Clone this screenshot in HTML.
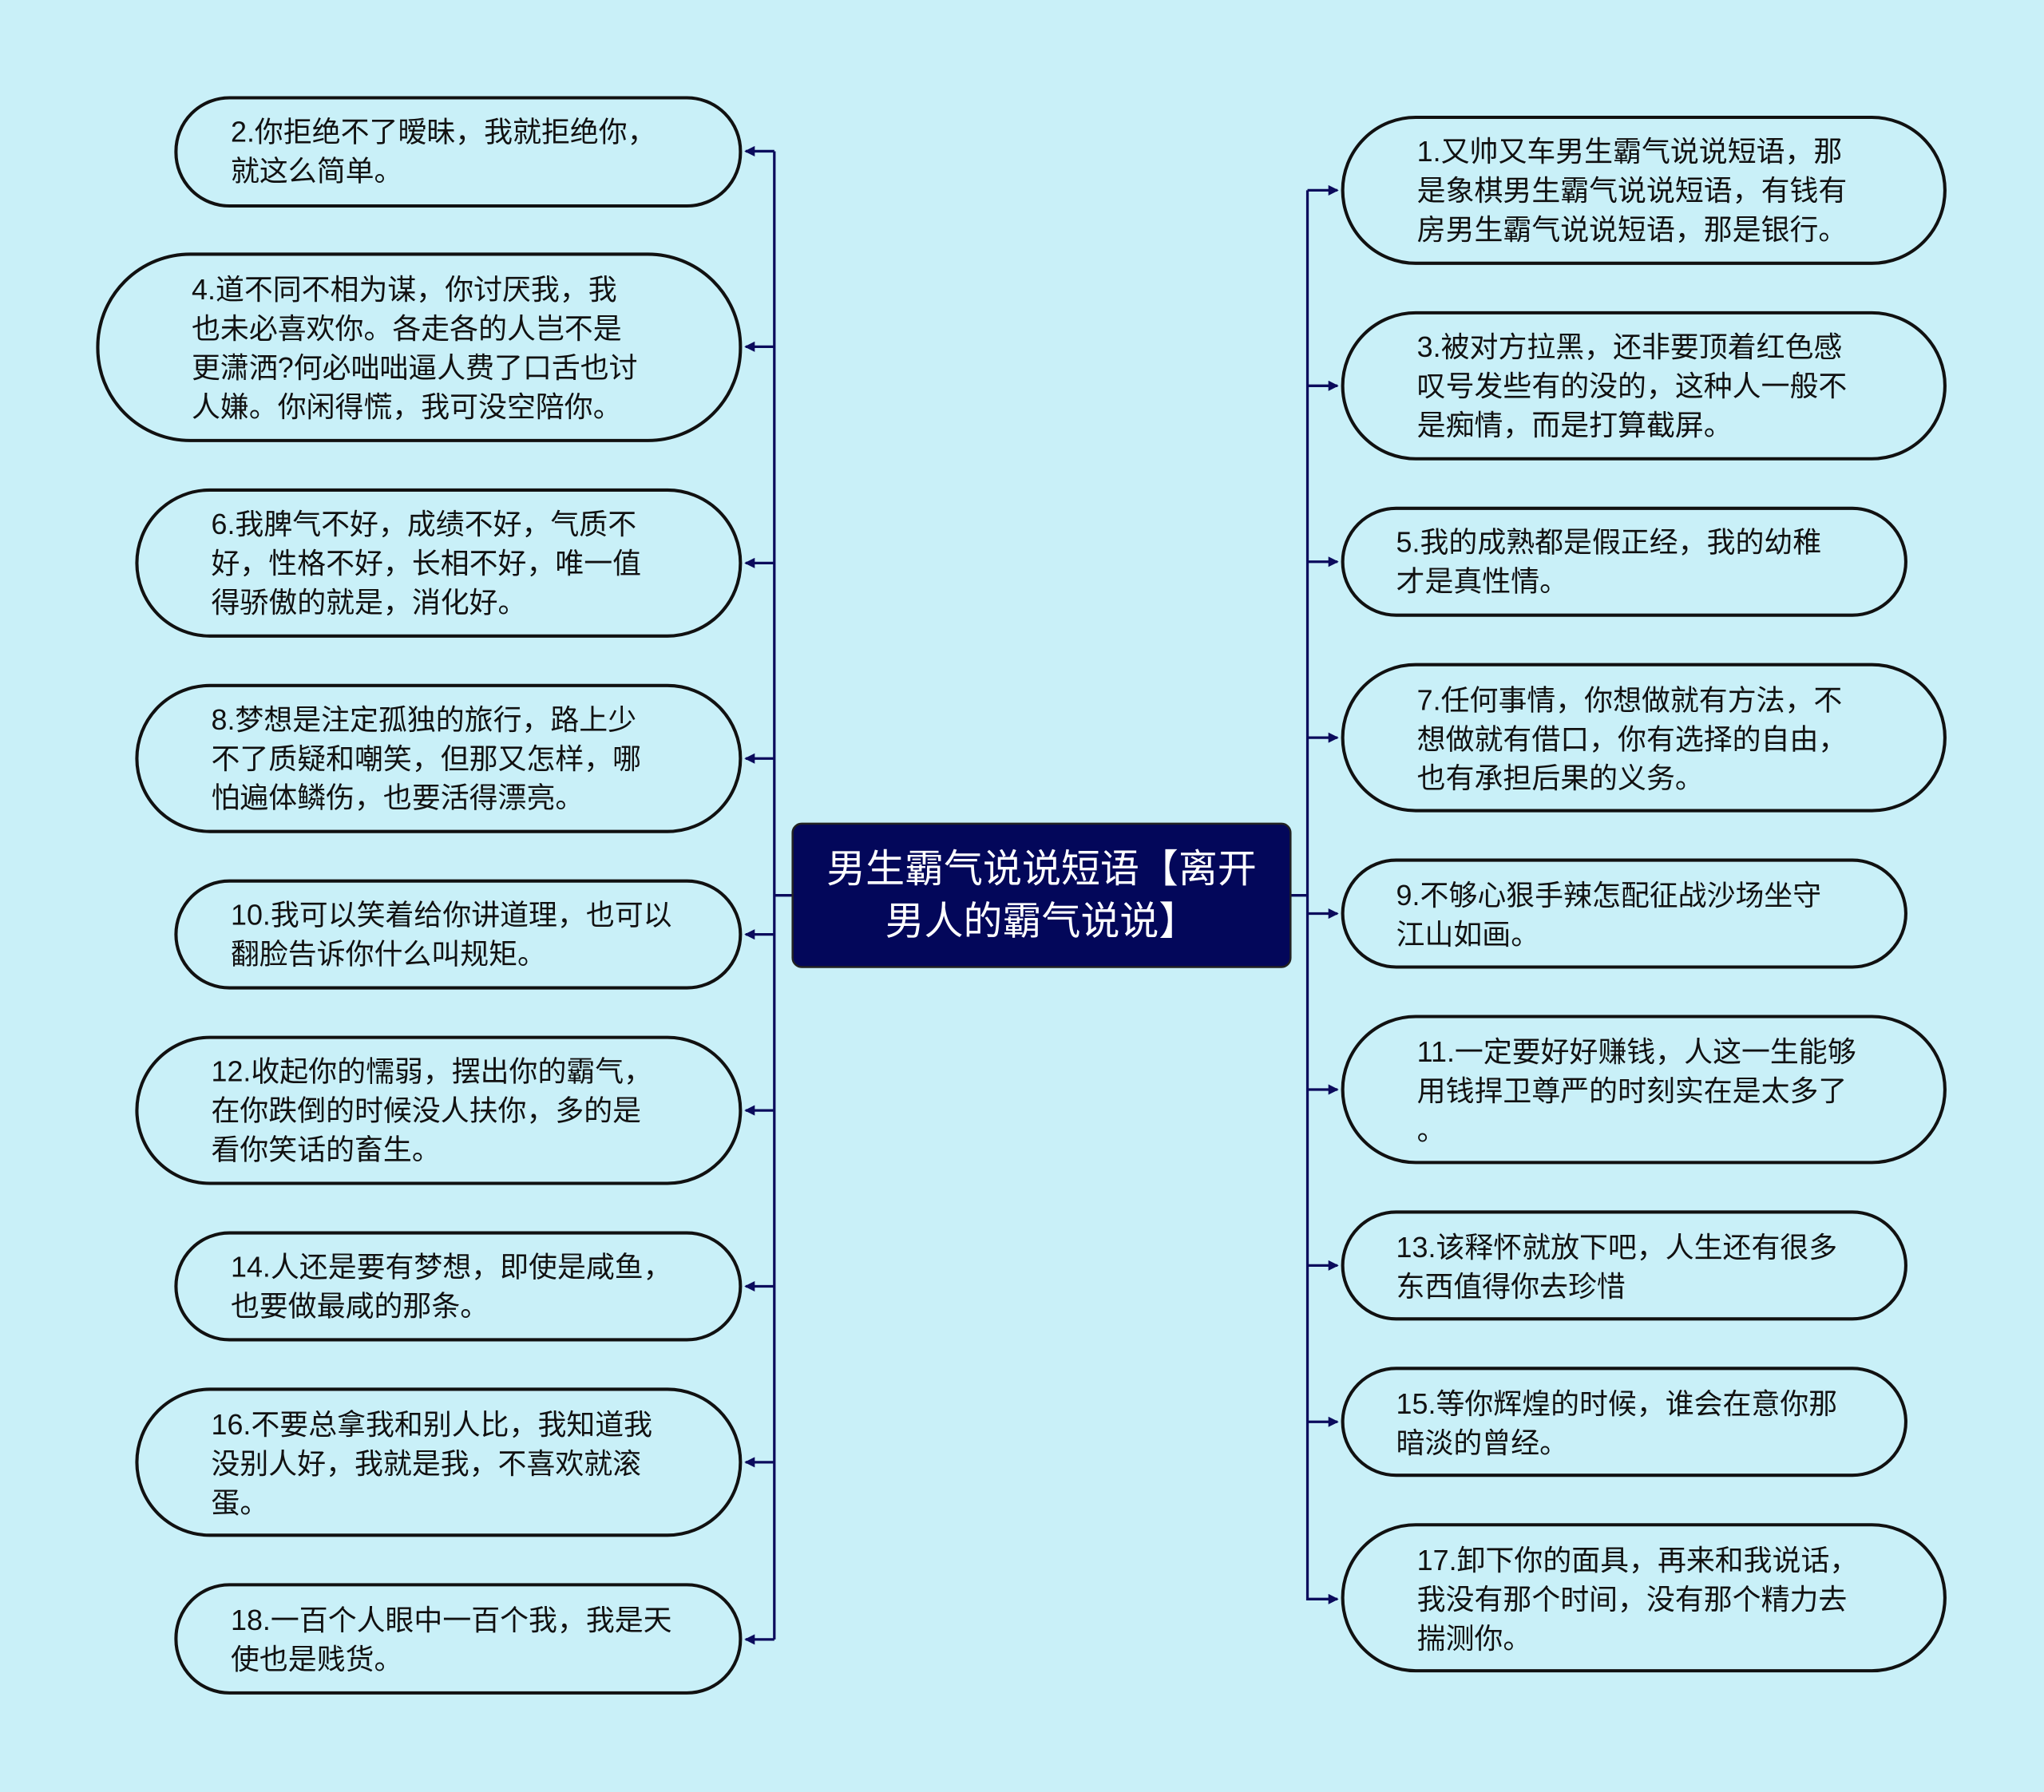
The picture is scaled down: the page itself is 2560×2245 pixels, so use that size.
<!DOCTYPE html>
<html><head><meta charset="utf-8"><style>
html,body{margin:0;padding:0;background:#c9f0f8;}
svg{display:block}
text{font-family:"Liberation Sans","Noto Sans CJK SC",sans-serif;font-size:22px;fill:#111;dominant-baseline:central}
</style></head><body>
<svg width="2560" height="2245" viewBox="0 0 1568 1375" xmlns="http://www.w3.org/2000/svg">
<rect width="1568" height="1375" fill="#c9f0f8"/>
<defs><marker id="a" markerWidth="8" markerHeight="8" refX="7" refY="4" orient="auto" markerUnits="userSpaceOnUse"><path d="M0,0 L8,4 L0,8 z" fill="#0b0b5c"/></marker></defs>
<g stroke="#0b0b5c" stroke-width="2" fill="none">
<line x1="594" y1="116" x2="594" y2="1258"/>
<line x1="608" y1="687" x2="594" y2="687"/>
<line x1="1003" y1="146" x2="1003" y2="1228"/>
<line x1="990" y1="687" x2="1003" y2="687"/>
<g marker-end="url(#a)">
<line x1="594" y1="116" x2="572" y2="116"/>
<line x1="594" y1="266" x2="572" y2="266"/>
<line x1="594" y1="432" x2="572" y2="432"/>
<line x1="594" y1="582" x2="572" y2="582"/>
<line x1="594" y1="717" x2="572" y2="717"/>
<line x1="594" y1="852" x2="572" y2="852"/>
<line x1="594" y1="987" x2="572" y2="987"/>
<line x1="594" y1="1122" x2="572" y2="1122"/>
<line x1="594" y1="1258" x2="572" y2="1258"/>
<line x1="1003" y1="146" x2="1026" y2="146"/>
<line x1="1003" y1="296" x2="1026" y2="296"/>
<line x1="1003" y1="431" x2="1026" y2="431"/>
<line x1="1003" y1="566" x2="1026" y2="566"/>
<line x1="1003" y1="701" x2="1026" y2="701"/>
<line x1="1003" y1="836" x2="1026" y2="836"/>
<line x1="1003" y1="971" x2="1026" y2="971"/>
<line x1="1003" y1="1091" x2="1026" y2="1091"/>
<line x1="1003" y1="1227" x2="1026" y2="1227"/>
</g></g>
<g fill="#c9f0f8" stroke="#111" stroke-width="2.5">
<rect x="135" y="75" width="433" height="83" rx="41"/>
<rect x="75" y="195" width="493" height="143" rx="71"/>
<rect x="105" y="376" width="463" height="112" rx="56"/>
<rect x="105" y="526" width="463" height="112" rx="56"/>
<rect x="135" y="676" width="433" height="82" rx="41"/>
<rect x="105" y="796" width="463" height="112" rx="56"/>
<rect x="135" y="946" width="433" height="82" rx="41"/>
<rect x="105" y="1066" width="463" height="112" rx="56"/>
<rect x="135" y="1216" width="433" height="83" rx="41"/>
<rect x="1030" y="90" width="462" height="112" rx="56"/>
<rect x="1030" y="240" width="462" height="112" rx="56"/>
<rect x="1030" y="390" width="432" height="82" rx="41"/>
<rect x="1030" y="510" width="462" height="112" rx="56"/>
<rect x="1030" y="660" width="432" height="82" rx="41"/>
<rect x="1030" y="780" width="462" height="112" rx="56"/>
<rect x="1030" y="930" width="432" height="82" rx="41"/>
<rect x="1030" y="1050" width="432" height="82" rx="41"/>
<rect x="1030" y="1170" width="462" height="112" rx="56"/>
</g>
<rect x="608" y="632" width="382" height="110" rx="7" fill="#03075a" stroke="#222" stroke-width="1.5"/>
<text x="799" y="667" text-anchor="middle" style="font-size:30px;fill:#fff">男生霸气说说短语【离开</text>
<text x="799" y="707" text-anchor="middle" style="font-size:30px;fill:#fff">男人的霸气说说】</text>

<text x="177" y="101">2.你拒绝不了暧昧，我就拒绝你，</text>
<text x="177" y="131">就这么简单。</text>
<text x="147" y="222">4.道不同不相为谋，你讨厌我，我</text>
<text x="147" y="252">也未必喜欢你。各走各的人岂不是</text>
<text x="147" y="282">更潇洒?何必咄咄逼人费了口舌也讨</text>
<text x="147" y="312">人嫌。你闲得慌，我可没空陪你。</text>
<text x="162" y="402">6.我脾气不好，成绩不好，气质不</text>
<text x="162" y="432">好，性格不好，长相不好，唯一值</text>
<text x="162" y="462">得骄傲的就是，消化好。</text>
<text x="162" y="552">8.梦想是注定孤独的旅行，路上少</text>
<text x="162" y="582">不了质疑和嘲笑，但那又怎样，哪</text>
<text x="162" y="612">怕遍体鳞伤，也要活得漂亮。</text>
<text x="177" y="702">10.我可以笑着给你讲道理，也可以</text>
<text x="177" y="732">翻脸告诉你什么叫规矩。</text>
<text x="162" y="822">12.收起你的懦弱，摆出你的霸气，</text>
<text x="162" y="852">在你跌倒的时候没人扶你，多的是</text>
<text x="162" y="882">看你笑话的畜生。</text>
<text x="177" y="972">14.人还是要有梦想，即使是咸鱼，</text>
<text x="177" y="1002">也要做最咸的那条。</text>
<text x="162" y="1093">16.不要总拿我和别人比，我知道我</text>
<text x="162" y="1123">没别人好，我就是我，不喜欢就滚</text>
<text x="162" y="1153">蛋。</text>
<text x="177" y="1243">18.一百个人眼中一百个我，我是天</text>
<text x="177" y="1273">使也是贱货。</text>

<text x="1087" y="116">1.又帅又车男生霸气说说短语，那</text>
<text x="1087" y="146">是象棋男生霸气说说短语，有钱有</text>
<text x="1087" y="176">房男生霸气说说短语，那是银行。</text>
<text x="1087" y="266">3.被对方拉黑，还非要顶着红色感</text>
<text x="1087" y="296">叹号发些有的没的，这种人一般不</text>
<text x="1087" y="326">是痴情，而是打算截屏。</text>
<text x="1071" y="416">5.我的成熟都是假正经，我的幼稚</text>
<text x="1071" y="446">才是真性情。</text>
<text x="1087" y="537">7.任何事情，你想做就有方法，不</text>
<text x="1087" y="567">想做就有借口，你有选择的自由，</text>
<text x="1087" y="597">也有承担后果的义务。</text>
<text x="1071" y="687">9.不够心狠手辣怎配征战沙场坐守</text>
<text x="1071" y="717">江山如画。</text>
<text x="1087" y="807">11.一定要好好赚钱，人这一生能够</text>
<text x="1087" y="837">用钱捍卫尊严的时刻实在是太多了</text>
<text x="1087" y="867">。</text>
<text x="1071" y="957">13.该释怀就放下吧，人生还有很多</text>
<text x="1071" y="987">东西值得你去珍惜</text>
<text x="1071" y="1077">15.等你辉煌的时候，谁会在意你那</text>
<text x="1071" y="1107">暗淡的曾经。</text>
<text x="1087" y="1197">17.卸下你的面具，再来和我说话，</text>
<text x="1087" y="1227">我没有那个时间，没有那个精力去</text>
<text x="1087" y="1257">揣测你。</text>
</svg>
</body></html>
